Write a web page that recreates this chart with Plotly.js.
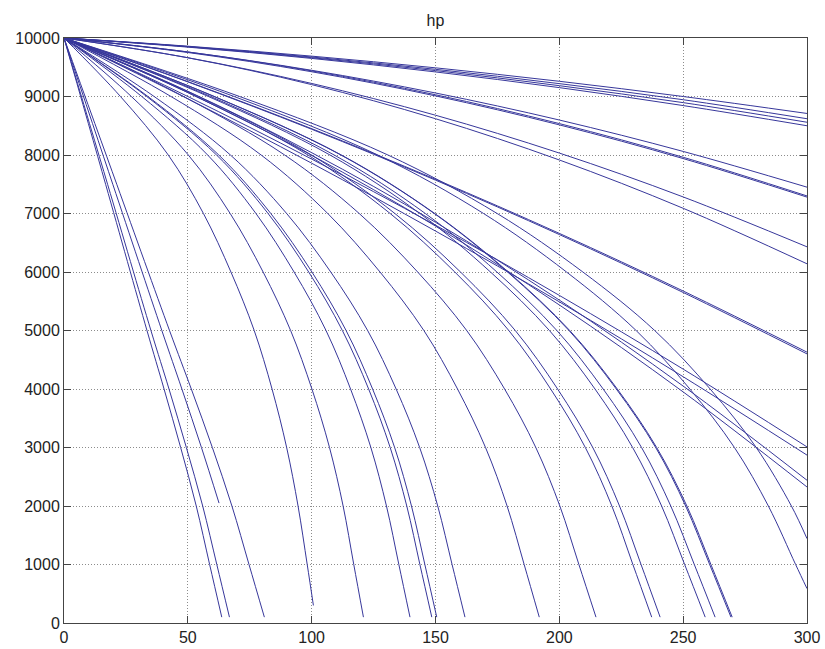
<!DOCTYPE html>
<html>
<head>
<meta charset="utf-8">
<script src="https://cdn.plot.ly/plotly-3.0.1.min.js"></script>
<style>html,body{margin:0;padding:0;background:#fff;}#chart{width:825px;height:649px;}</style>
</head>
<body>
<div id="chart"></div>
<script>
// ---- data ----
const xGrid = [0, 50, 100, 150, 200, 250, 300];
// gentle curves ending at the right edge
const hpT1 = [10000, 9860, 9690, 9490, 9260, 9000, 8710];
const hpT2 = [10000, 9855, 9675, 9465, 9220, 8945, 8620];
const hpT3 = [10000, 9850, 9663, 9443, 9185, 8895, 8560];
const hpT4 = [10000, 9844, 9651, 9420, 9152, 8845, 8500];
const hpE1 = [10000, 9761, 9448, 9060, 8598, 8061, 7450];
const hpE2 = [10000, 9761, 9438, 9030, 8537, 7961, 7300];
const hpE3 = [10000, 9752, 9423, 9010, 8515, 7939, 7280];
const hpF1 = [10000, 9663, 9223, 8680, 8033, 7283, 6430];
const hpF2 = [10000, 9662, 9203, 8620, 7915, 7089, 6140];
const hpG1 = [10000, 9255, 8450, 7585, 6660, 5675, 4630];
const hpG2 = [10000, 9250, 8440, 7570, 6640, 5650, 4600];
const hpR1 = [10000, 9000, 7930, 6800, 5600, 4340, 3010];
const hpR2 = [10000, 8960, 7860, 6700, 5490, 4210, 2870];
const hpR3 = [10000, 9090, 8040, 6850, 5520, 4050, 2440];
const hpR4 = [10000, 9067, 7995, 6785, 5437, 3950, 2325];

// curves read where they cross the hp grid levels
const hpLevels   = [10000, 9000, 8000, 7000, 6000, 5000, 4000, 3000, 2000, 1000, 100];
const hpLevelsB1 = [10000, 9000, 8000, 7000, 6000, 5000, 4000, 3000, 2000, 1000, 300];
const xB1  = [0, 22.8, 42.1, 56.3, 67.4, 76.8, 84.0, 89.9, 94.5, 98.2, 100.7];
const xB2  = [0, 27.2, 50.2, 67.1, 80.4, 91.5, 100.1, 107.2, 112.7, 117.0, 120.9];
const xB3  = [0, 31.4, 58.0, 77.5, 92.9, 105.8, 115.7, 123.9, 130.2, 135.2, 139.7];
const xB4  = [0, 33.4, 61.6, 82.4, 98.8, 112.4, 123.0, 131.7, 138.4, 143.7, 148.5];
const xB5  = [0, 33.9, 62.5, 83.5, 100.1, 113.9, 124.6, 133.5, 140.3, 145.7, 150.5];
const xB6  = [0, 36.4, 67.2, 89.9, 107.7, 122.6, 134.1, 143.6, 150.9, 156.7, 161.9];
const xB7  = [0, 43.2, 79.6, 106.5, 127.6, 145.3, 158.9, 170.2, 178.9, 185.8, 191.9];
const xB8  = [0, 48.3, 89.1, 119.2, 142.8, 162.6, 177.9, 190.5, 200.2, 207.9, 214.8];
const xB9  = [0, 53.4, 98.5, 131.7, 157.8, 179.6, 196.5, 210.5, 221.2, 229.7, 237.3];
const xB10 = [0, 54.2, 99.9, 133.6, 160.1, 182.2, 199.3, 213.5, 224.3, 233.0, 240.7];
const xB11 = [0, 58.3, 107.4, 143.7, 172.2, 196.0, 214.4, 229.6, 241.3, 250.6, 258.9];
const xB12 = [0, 59.2, 109.1, 145.9, 174.8, 199.0, 217.7, 233.2, 245.0, 254.5, 262.9];
const xB13 = [0, 60.6, 111.8, 149.5, 179.1, 203.9, 223.0, 238.9, 251.0, 260.7, 269.3];
const xB14 = [0, 60.7, 112.0, 149.7, 179.4, 204.2, 223.4, 239.3, 251.5, 261.2, 269.8];

// strongly bending curves that leave through the right edge low down
const xR5 = [0, 70.9, 130.8, 174.9, 209.5, 238.5, 260.9, 279.5, 293.7, 300];
const yR5 = [10000, 9000, 8000, 7000, 6000, 5000, 4000, 3000, 2000, 1442];
const xR6 = [0, 68.7, 126.7, 169.4, 202.9, 231.0, 252.7, 270.7, 284.4, 295.4, 300];
const yR6 = [10000, 9000, 8000, 7000, 6000, 5000, 4000, 3000, 2000, 1000, 588];

// steep, nearly straight curves on the left
const ySteep = [10000, 7500, 5000, 4000, 3000, 2000, 1000, 100];
const xSA = [0, 16.8, 33.5, 40.4, 47.1, 53.4, 58.8, 63.7];
const xSB = [0, 17.6, 35.1, 42.4, 49.4, 56.0, 61.7, 66.8];
const xSD = [0, 21.3, 42.6, 51.4, 59.9, 67.8, 74.7, 80.9];
const xSC = [0, 19.7, 39.5, 47.6, 55.5, 62.6];
const ySC = [10000, 7500, 5000, 4000, 3000, 2050];

const xTicks = [0, 50, 100, 150, 200, 250, 300];
const yTicks = [0, 1000, 2000, 3000, 4000, 5000, 6000, 7000, 8000, 9000, 10000];

// ---- build traces ----
const series = [];
[hpT1, hpT2, hpT3, hpT4, hpE1, hpE2, hpE3, hpF1, hpF2, hpG1, hpG2, hpR1, hpR2, hpR3, hpR4]
  .forEach(v => series.push([xGrid, v]));
[xB2, xB3, xB4, xB5, xB6, xB7, xB8, xB9, xB10, xB11, xB12, xB13, xB14]
  .forEach(v => series.push([v, hpLevels]));
series.push([xB1, hpLevelsB1]);
series.push([xR5, yR5], [xR6, yR6]);
series.push([xSA, ySteep], [xSB, ySteep], [xSD, ySteep], [xSC, ySC]);

const traces = series.map(s => ({
  x: s[0], y: s[1], type: 'scatter', mode: 'lines',
  line: {color: 'rgb(55,55,155)', width: 1, shape: 'spline', smoothing: 1},
  hoverinfo: 'skip', showlegend: false
}));

const font = {family: 'Liberation Sans, Arial, Helvetica, sans-serif', size: 16, color: '#222'};
const axisCommon = {
  showgrid: true, gridcolor: '#8c8c8c', griddash: '1px,2px', gridwidth: 1,
  zeroline: false, showline: true, linecolor: '#444', linewidth: 1, mirror: 'ticks',
  ticks: 'inside', ticklen: 7, tickcolor: '#444', tickwidth: 1, tickfont: font
};
const layout = {
  width: 825, height: 649,
  margin: {l: 64, r: 18, t: 38, b: 26},
  paper_bgcolor: '#fff', plot_bgcolor: '#fff',
  showlegend: false,
  title: {text: 'hp', font: font, x: 0.5, xref: 'paper', xanchor: 'center', y: 0.968, yref: 'container', yanchor: 'middle'},
  xaxis: Object.assign({}, axisCommon, {range: [0, 300], tickvals: xTicks, ticktext: xTicks.map(String)}),
  yaxis: Object.assign({}, axisCommon, {range: [0, 10000], tickvals: yTicks, ticktext: yTicks.map(String)})
};
Plotly.newPlot('chart', traces, layout, {staticPlot: true, displayModeBar: false});
</script>
</body>
</html>
